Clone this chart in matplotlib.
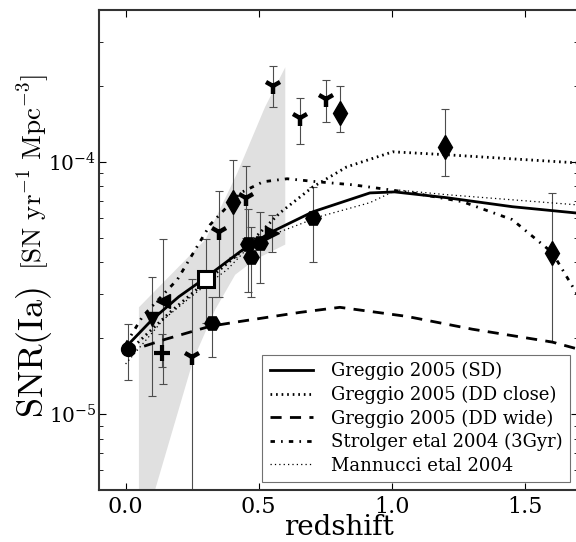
import matplotlib
matplotlib.use("Agg")
import matplotlib.pyplot as plt
import numpy as np

plt.rcParams['font.family'] = 'DejaVu Serif'
plt.rcParams['mathtext.fontset'] = 'cm'

# model curves (redshift, SN rate)
sd_z = [0.0, 0.10, 0.20, 0.292, 0.431, 0.543, 0.704, 0.918, 1.011, 1.206, 1.453, 1.70]
sd_snr = [1.84e-5, 2.37e-5, 2.92e-5, 3.42e-5, 4.41e-5, 5.24e-5, 6.34e-5, 7.53e-5, 7.60e-5, 7.21e-5, 6.64e-5, 6.26e-5]

ddc_z = [0.0, 0.17, 0.29, 0.43, 0.58, 0.704, 0.831, 1.004, 1.206, 1.70]
ddc_snr = [1.73e-5, 2.55e-5, 3.27e-5, 4.37e-5, 6.28e-5, 7.96e-5, 9.55e-5, 1.096e-4, 1.067e-4, 9.90e-5]

ddw_z = [0.0, 0.15, 0.318, 0.431, 0.655, 0.805, 1.056, 1.303, 1.603, 1.70]
ddw_snr = [1.76e-5, 1.98e-5, 2.23e-5, 2.33e-5, 2.53e-5, 2.65e-5, 2.44e-5, 2.17e-5, 1.93e-5, 1.81e-5]

str_z = [0.0, 0.064, 0.195, 0.318, 0.431, 0.517, 0.607, 0.719, 0.854, 1.079, 1.266, 1.453, 1.603, 1.70]
str_snr = [1.89e-5, 2.44e-5, 3.42e-5, 5.64e-5, 7.53e-5, 8.34e-5, 8.57e-5, 8.34e-5, 8.11e-5, 7.53e-5, 6.95e-5, 5.90e-5, 4.37e-5, 2.95e-5]

man_z = [0.0, 0.142, 0.27, 0.382, 0.479, 0.58, 0.73, 0.918, 1.019, 1.206, 1.70]
man_snr = [1.58e-5, 2.37e-5, 3.06e-5, 3.74e-5, 4.79e-5, 5.28e-5, 6.07e-5, 6.89e-5, 7.74e-5, 7.41e-5, 6.75e-5]

# grey uncertainty band
band_z = [0.05, 0.30, 0.42, 0.524, 0.60, 0.60, 0.487, 0.412, 0.337, 0.255, 0.112, 0.10, 0.05]
band_snr = [2.65e-5, 4.92e-5, 9.05e-5, 1.65e-4, 2.37e-4, 4.7e-5, 4.1e-5, 3.57e-5, 2.6e-5, 1.65e-5, 5.06e-6, 4e-6, 4e-6]

# observed rates: z, rate, upper, lower
circ_z, circ_r, circ_hi, circ_lo = [0.01], [1.81e-5], [2.27e-5], [1.36e-5]
tdn_z, tdn_r, tdn_hi, tdn_lo = [0.10], [2.38e-5], [3.5e-5], [1.18e-5]
tlf_z, tlf_r, tlf_hi, tlf_lo = [0.14], [2.8e-5], [4.96e-5], [1.31e-5]
plus_z, plus_r, plus_hi, plus_lo = [0.135], [1.74e-5], [2.07e-5], [1.53e-5]
trt_z, trt_r, trt_hi, trt_lo = [0.55], [5.23e-5], [6.17e-5], [4.41e-5]
sq_z, sq_r, sq_hi, sq_lo = [0.303], [3.42e-5], [4.96e-5], [2.3e-5]
y_z = [0.25, 0.352, 0.453, 0.554, 0.655, 0.753]
y_r = [1.69e-5, 5.28e-5, 7.2e-5, 1.995e-4, 1.49e-4, 1.77e-4]
y_hi = [3.42e-5, 7.68e-5, 9.64e-5, 2.39e-4, 1.79e-4, 2.11e-4]
y_lo = [1e-6, 2.9e-5, 5.0e-5, 1.65e-4, 1.18e-4, 1.44e-4]
hex_z = [0.326, 0.46, 0.47, 0.505, 0.704]
hex_r = [2.29e-5, 4.74e-5, 4.18e-5, 4.78e-5, 6.0e-5]
hex_hi = [2.9e-5, 6.5e-5, 5.5e-5, 6.3e-5, 7.97e-5]
hex_lo = [1.69e-5, 3.06e-5, 2.9e-5, 3.3e-5, 3.99e-5]
dia_z = [0.405, 0.805, 1.202, 1.603]
dia_r = [6.95e-5, 1.56e-4, 1.146e-4, 4.37e-5]
dia_hi = [1.02e-4, 2.0e-4, 1.62e-4, 7.54e-5]
dia_lo = [4.2e-5, 1.31e-4, 8.8e-5, 1.93e-5]

fig = plt.figure(figsize=(5.76, 5.42), dpi=100)
ax = fig.add_axes([99/576, 52/542, 479/576, 480/542])

ax.fill(band_z, band_snr, color='0.88', lw=0, zorder=1)

ax.plot(sd_z, sd_snr, '-', color='k', lw=2, label='Greggio 2005 (SD)', zorder=3)
ax.plot(ddc_z, ddc_snr, color='k', lw=2, ls=(0, (0.6, 1.4)), label='Greggio 2005 (DD close)', zorder=3)
ax.plot(ddw_z, ddw_snr, color='k', lw=2, ls=(0, (4, 3)), label='Greggio 2005 (DD wide)', zorder=3)
ax.plot(str_z, str_snr, color='k', lw=2, ls=(0, (1.6, 2.2, 0.6, 2.2)), label='Strolger etal 2004 (3Gyr)', zorder=3)
ax.plot(man_z, man_snr, color='k', lw=0.9, ls=(0, (1, 2.5)), label='Mannucci etal 2004', zorder=3)

def points(z, r, hi, lo, marker, ms, mew=1, mfc='k'):
    r = np.array(r)
    err = [r - np.array(lo), np.array(hi) - r]
    ax.errorbar(z, r, yerr=err, fmt='none', ecolor='0.3', elinewidth=0.8, capsize=3, capthick=0.8, zorder=2)
    ax.plot(z, r, ls='none', marker=marker, ms=ms, mfc=mfc, mec='k', mew=mew, zorder=4)

points(circ_z, circ_r, circ_hi, circ_lo, 'o', 10)
points(tdn_z, tdn_r, tdn_hi, tdn_lo, 'v', 10)
points(tlf_z, tlf_r, tlf_hi, tlf_lo, '<', 10)
points(plus_z, plus_r, plus_hi, plus_lo, '+', 11, mew=3)
points(trt_z, trt_r, trt_hi, trt_lo, '>', 10)
points(sq_z, sq_r, sq_hi, sq_lo, 's', 11, mew=2.2, mfc='white')
points(y_z, y_r, y_hi, y_lo, '1', 12, mew=3.2)
points(hex_z, hex_r, hex_hi, hex_lo, 'H', 11)
points(dia_z, dia_r, dia_hi, dia_lo, 'd', 12)

ax.set_yscale('log')
ax.set_xlim(-0.1, 1.7)
ax.set_ylim(5e-6, 4e-4)
ax.set_xticks([0.0, 0.5, 1.0, 1.5])
ax.set_xticklabels(['0.0', '0.5', '1.0', '1.5'])
ax.set_yticks([1e-5, 1e-4])
ax.set_yticklabels(['$\\mathregular{10^{-5}}$', '$\\mathregular{10^{-4}}$'])
ax.tick_params(which='both', direction='in', top=True, right=True)
ax.tick_params(which='major', length=5, width=0.8)
ax.tick_params(which='minor', length=3, width=0.6)
ax.tick_params(axis='x', labelsize=16, pad=4)
ax.tick_params(axis='y', labelsize=14.5, pad=2)
for s in ax.spines.values():
    s.set_linewidth(1.5)
    s.set_color('0.2')

ax.set_xlabel('redshift', fontsize=20, labelpad=-2.5)

# y label in two pieces, as in the reference
fig.text(34/576, 1 - 352/542, r'$\mathrm{SNR(Ia)}$', rotation=90,
         ha='center', va='center', fontsize=26)
fig.text(34/576, 1 - 172/542, r'$[\mathrm{SN\ yr^{-1}\ Mpc^{-3}}]$', rotation=90,
         ha='center', va='center', fontsize=19.5)

leg = ax.legend(loc='lower right', fontsize=13, frameon=True, fancybox=False,
                handlelength=2.4, handletextpad=1.0, labelspacing=0.3,
                borderaxespad=0.45, borderpad=0.4)
leg.get_frame().set_edgecolor('0.3')
leg.get_frame().set_linewidth(0.8)
leg.set_zorder(5)

fig.savefig('out.png', dpi=100)
